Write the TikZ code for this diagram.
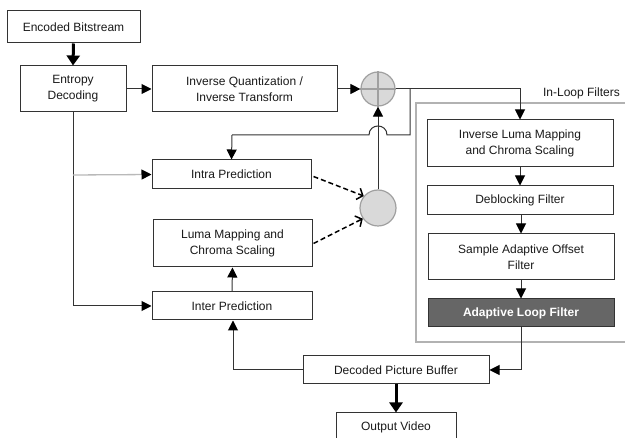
\documentclass[tikz,border=0pt]{standalone}
\usepackage{fontspec}
\setmainfont{Liberation Sans}
\usetikzlibrary{arrows.meta}
\definecolor{boxline}{HTML}{333333}
\definecolor{txt}{HTML}{1A1A1A}
\definecolor{sumfill}{HTML}{D9D9D9}
\definecolor{sumline}{HTML}{A0A0A0}
\definecolor{alffill}{HTML}{666666}
\tikzset{
  blk/.style={draw=boxline, line width=1pt, fill=white, text=txt, align=center,
    inner sep=0pt, font=\fontsize{12}{16}\selectfont},
  sumc/.style={circle, draw=sumline, line width=1.2pt, fill=sumfill, inner sep=0pt, minimum size=#1},
  conn/.style={draw=boxline, line width=1pt, -{Triangle[length=10pt,width=10pt,color=black]}},
  thickarr/.style={draw=black, line width=3pt, -{Triangle[length=10pt,width=13pt]}},
  dashconn/.style={draw=black, line width=1.5pt, dash pattern=on 5pt off 3pt, -{Straight Barb[length=5pt,width=12pt]}},
}
\begin{document}
\begin{tikzpicture}[x=1pt,y=-1pt]
\useasboundingbox (0,0) rectangle (625,438);
\clip (0,0) rectangle (625,438);
\fill[white] (0,0) rectangle (625,438);

% loop filters frame
\draw[gray!60, line width=1.3pt] (635,103) -- (416,103) -- (416,342) -- (635,342);
\node[anchor=east, text=txt, inner sep=0pt, font=\fontsize{12}{16}\selectfont] (lbl) at (620,93) {In-Loop Filters};

% blocks
\node[blk, minimum width=133pt, minimum height=32pt] (enc) at (73.5,27) {Encoded Bitstream};
\node[blk, minimum width=106pt, minimum height=46pt] (ent) at (73,89) {Entropy\\Decoding};
\node[blk, minimum width=185pt, minimum height=46pt] (iq) at (244.5,89) {Inverse Quantization /\\Inverse Transform};
\node[sumc=34pt] (add) at (378,89) {};
\draw[sumline, line width=1.2pt] (add.north) -- (add.south) (add.west) -- (add.east);
\node[blk, minimum width=186pt, minimum height=47pt] (ilm) at (520,143.5) {Inverse Luma Mapping\\and Chroma Scaling};
\node[blk, minimum width=186pt, minimum height=29pt] (dbf) at (520,200.5) {Deblocking Filter};
\node[blk, minimum width=186pt, minimum height=46pt] (sao) at (521,257) {Sample Adaptive Offset\\Filter};
\node[blk, minimum width=186pt, minimum height=28pt, fill=alffill, text=white, font=\fontsize{12}{16}\selectfont\bfseries] (alf) at (521,313) {Adaptive Loop Filter};
\node[blk, minimum width=186pt, minimum height=28pt] (dpb) at (396,370) {Decoded Picture Buffer};
\node[blk, minimum width=120pt, minimum height=34pt] (out) at (396,430) {};
\node[text=txt, inner sep=0pt, font=\fontsize{12}{16}\selectfont] (outt) at (396,427) {Output Video};
\node[blk, minimum width=159pt, minimum height=29pt] (intra) at (231.5,174.5) {Intra Prediction};
\node[blk, minimum width=159pt, minimum height=47pt] (lmcs) at (232.5,243.5) {Luma Mapping and\\Chroma Scaling};
\node[blk, minimum width=160pt, minimum height=28pt] (inter) at (232,306) {Inter Prediction};
\node[sumc=36pt] (sum2) at (378,208) {};

% coordinates
\coordinate (br) at (73,175);
\coordinate (bot) at (73,306);
\coordinate (fb1) at (410,89);
\coordinate (fb2) at (410,135);
\coordinate (hr) at (387,135);
\coordinate (hl) at (369,135);
\coordinate (fb3) at (232,135);
\coordinate (ot) at (520,89);
\coordinate (alfc) at (521,370);
\coordinate (dl) at (233,370);

% connectors
\draw[thickarr] (enc.south) -- (ent.north);
\draw[conn] (ent.east) -- (iq.west);
\draw[conn] (iq.east) -- (add.west);
\draw[conn] (add.east) -- (ot) -- (ilm.north);
\draw[draw=boxline, line width=1pt] (fb1) -- (fb2) -- (hr) .. controls (387,123) and (369,123) .. (hl) -- (fb3);
\draw[conn] (fb3) -- (intra.north);
\draw[conn] (sum2.north) -- (add.south);
\draw[draw=boxline, line width=1pt] (ent.south) -- (bot);
\draw[conn] (bot) -- (inter.west);
\draw[draw=gray!55, line width=1.3pt, -{Triangle[length=10pt,width=10pt,color=black]}] (br) -- (intra.west);
\draw[dashconn] ([xshift=2pt,yshift=-2pt]intra.east) -- (sum2.140);
\draw[dashconn] ([xshift=1pt]lmcs.east) -- (sum2.215);
\draw[conn] (inter.north) -- (lmcs.south);
\draw[conn] (ilm.south) -- (dbf.north);
\draw[conn] ([xshift=1pt]dbf.south) -- (sao.north);
\draw[conn] (sao.south) -- (alf.north);
\draw[conn] (alf.south) -- (alfc) -- (dpb.east);
\draw[conn] (dpb.west) -- (dl) -- ([xshift=1pt]inter.south);
\draw[thickarr] (dpb.south) -- (out.north);
\end{tikzpicture}
\end{document}
